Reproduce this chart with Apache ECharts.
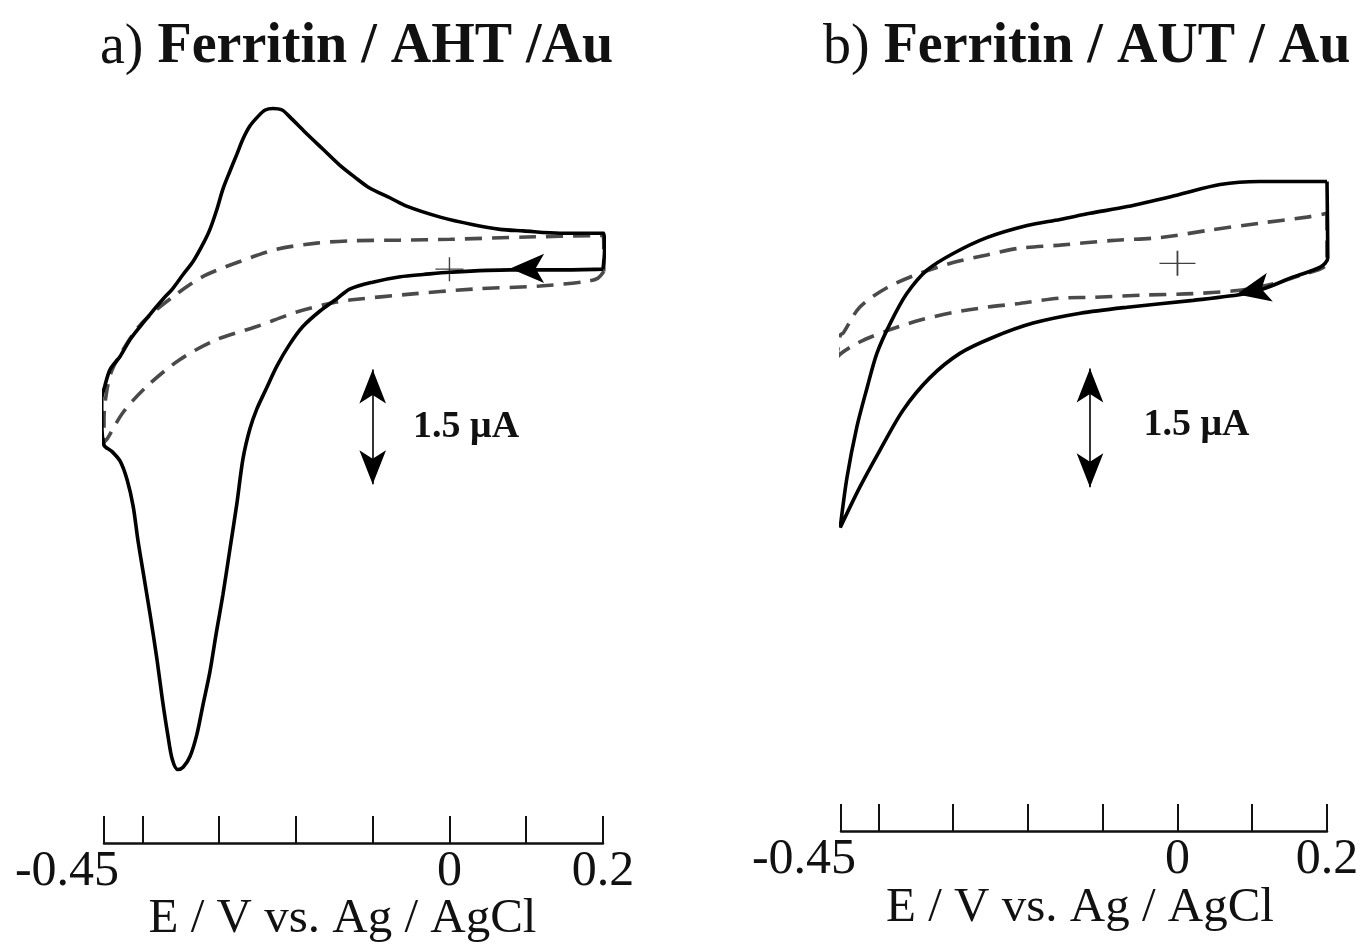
<!DOCTYPE html>
<html><head><meta charset="utf-8">
<script src="https://cdn.jsdelivr.net/npm/echarts@6/dist/echarts.min.js"></script>
<style>html,body{margin:0;padding:0;background:#fff}#c{width:1362px;height:947px}</style>
</head><body><div id="c"></div><script>
// ---------- text ----------
const panelTitlesA = ['a)', 'Ferritin / AHT /Au'];
const panelTitlesB = ['b)', 'Ferritin / AUT / Au'];
const xName = 'E / V vs. Ag / AgCl';
const scaleLabel = '1.5 μA';
// ---------- axis ticks ----------
const xTicks = [-0.45, -0.4, -0.3, -0.2, -0.1, 0, 0.1, 0.2];
const xLabelValues = [-0.45, 0, 0.2];
// ---------- data: [E (V), I (uA)] ----------
// panel a, ferritin CV (solid), scan order
const cvA = [
  [0.200, 0.00], [0.144, -0.01], [0.079, -0.01], [0.000, -0.04], [-0.034, -0.07], [-0.064, -0.10],
  [-0.100, -0.17], [-0.130, -0.26], [-0.147, -0.39], [-0.169, -0.55], [-0.191, -0.75], [-0.208, -0.98],
  [-0.225, -1.27], [-0.239, -1.57], [-0.251, -1.83], [-0.260, -2.09], [-0.269, -2.48], [-0.277, -3.07],
  [-0.286, -3.66], [-0.295, -4.25], [-0.304, -4.77], [-0.312, -5.26], [-0.321, -5.69], [-0.329, -6.08],
  [-0.338, -6.37], [-0.347, -6.51], [-0.354, -6.54], [-0.361, -6.41], [-0.367, -6.08], [-0.374, -5.62],
  [-0.381, -5.10], [-0.390, -4.51], [-0.399, -3.96], [-0.406, -3.53], [-0.412, -3.10], [-0.420, -2.75],
  [-0.429, -2.51], [-0.440, -2.38], [-0.450, -2.30], [-0.453, -1.96], [-0.453, -1.70], [-0.449, -1.53],
  [-0.442, -1.31], [-0.429, -1.14], [-0.416, -0.92], [-0.403, -0.75], [-0.390, -0.59], [-0.373, -0.39],
  [-0.361, -0.26], [-0.347, -0.07], [-0.334, 0.10], [-0.321, 0.33], [-0.312, 0.52], [-0.303, 0.78],
  [-0.295, 1.05], [-0.286, 1.28], [-0.277, 1.50], [-0.269, 1.70], [-0.260, 1.87], [-0.249, 2.00],
  [-0.240, 2.08], [-0.230, 2.10], [-0.218, 2.08], [-0.208, 1.99], [-0.188, 1.79], [-0.165, 1.57],
  [-0.143, 1.36], [-0.123, 1.20], [-0.104, 1.06], [-0.077, 0.93], [-0.055, 0.82], [-0.012, 0.68],
  [0.031, 0.58], [0.066, 0.52], [0.096, 0.50], [0.144, 0.47], [0.196, 0.47], [0.201, 0.47],
  [0.202, 0.24], [0.200, 0.00]
];
// panel a, background (dashed)
const bgA = [
  [0.201, -0.03], [0.193, -0.12], [0.179, -0.16], [0.118, -0.22], [0.031, -0.26], [-0.055, -0.33],
  [-0.117, -0.39], [-0.147, -0.43], [-0.199, -0.56], [-0.251, -0.75], [-0.303, -0.92], [-0.351, -1.18],
  [-0.394, -1.53], [-0.425, -1.87], [-0.446, -2.22], [-0.450, -2.26], [-0.450, -1.96], [-0.447, -1.63],
  [-0.440, -1.33], [-0.425, -1.05], [-0.407, -0.78], [-0.390, -0.60], [-0.364, -0.39], [-0.338, -0.20],
  [-0.316, -0.07], [-0.273, 0.10], [-0.225, 0.26], [-0.173, 0.34], [-0.130, 0.37], [-0.064, 0.38],
  [0.001, 0.39], [0.101, 0.42], [0.200, 0.44], [0.201, 0.26], [0.201, -0.03]
];
// panel b, ferritin CV (solid)
const cvB = [
  [0.200, 1.08], [0.201, 0.07], [0.191, -0.05], [0.155, -0.18], [0.120, -0.32], [0.093, -0.40],
  [0.021, -0.49], [-0.067, -0.58], [-0.130, -0.66], [-0.193, -0.79], [-0.247, -0.98], [-0.291, -1.19],
  [-0.331, -1.51], [-0.367, -1.94], [-0.398, -2.47], [-0.425, -2.96], [-0.451, -3.49], [-0.442, -2.83],
  [-0.429, -2.17], [-0.415, -1.64], [-0.402, -1.19], [-0.384, -0.79], [-0.362, -0.40], [-0.335, -0.09],
  [-0.300, 0.13], [-0.255, 0.34], [-0.201, 0.50], [-0.157, 0.58], [-0.117, 0.66], [-0.067, 0.75],
  [-0.001, 0.90], [0.057, 1.04], [0.110, 1.08], [0.200, 1.08]
];
// panel b, background (dashed)
const bgB = [
  [0.200, 0.66], [0.200, 0.01], [0.164, -0.16], [0.120, -0.29], [0.080, -0.36], [0.021, -0.40],
  [-0.046, -0.42], [-0.113, -0.45], [-0.157, -0.46], [-0.211, -0.53], [-0.255, -0.58], [-0.300, -0.65],
  [-0.344, -0.75], [-0.388, -0.89], [-0.425, -1.04], [-0.455, -1.24], [-0.457, -1.36], [-0.451, -0.95],
  [-0.447, -0.92], [-0.425, -0.58], [-0.388, -0.32], [-0.344, -0.13], [-0.300, 0.01], [-0.255, 0.11],
  [-0.211, 0.20], [-0.157, 0.24], [-0.090, 0.30], [-0.023, 0.34], [0.044, 0.44], [0.110, 0.53],
  [0.173, 0.61], [0.200, 0.66]
];
// annotations (data coordinates)
const scaleBarA = [[-0.100, -1.31], [-0.100, -2.81]];
const scaleBarB = [[-0.117, -1.39], [-0.117, -2.96]];
const scaleTextA = [-0.048, -2.07];
const scaleTextB = [-0.046, -2.14];
const originA = [[0, 0]];
const originB = [[0, 0]];
const scanArrowA = [0.079, 0.01];
const scanArrowB = [0.079, -0.41];

const SERIF = 'Liberation Serif';
const chart = echarts.init(document.getElementById('c'), null, {renderer: 'canvas'});

function xAxisCfg(gi, namePad, gap) {
  return {
    type: 'value', gridIndex: gi, min: -0.45, max: 0.2,
    name: xName, nameLocation: 'middle', nameGap: gap, nameMoveOverlap: false,
    nameTextStyle: {fontFamily: SERIF, fontSize: 49, color: '#111', padding: [0, namePad, 0, 0]},
    axisLine: {show: true, onZero: false, lineStyle: {color: '#111', width: 2.5}},
    axisTick: {show: true, inside: true, length: 27, customValues: xTicks, lineStyle: {color: '#111', width: 2}},
    axisLabel: {
      show: true, customValues: xLabelValues, margin: 4,
      fontFamily: SERIF, fontSize: 50, color: '#111',
      formatter: v => Math.abs(v + 0.45) < 1e-9 ? '{m|-0.45}' : String(v),
      rich: {m: {fontFamily: SERIF, fontSize: 50, color: '#111', padding: [0, 74, 0, 0]}}
    },
    splitLine: {show: false}
  };
}
function yAxisCfg(gi) {
  return {type: 'value', gridIndex: gi, min: -7.5, max: 2.25, show: false, splitLine: {show: false}};
}
function titleCfg(parts, left) {
  return {
    text: '{n|' + parts[0] + '} {b|' + parts[1] + '}', left: left, top: 15,
    textStyle: {fontFamily: SERIF, fontSize: 56, fontWeight: 'normal', color: '#111',
      rich: {n: {fontFamily: SERIF, fontSize: 56, fontWeight: 'normal', color: '#111'},
             b: {fontFamily: SERIF, fontSize: 56, fontWeight: 'bold', color: '#111'}}}
  };
}
function solid(gi, data, arrowPos, arrowRot, bar, textPos) {
  return {
    type: 'line', xAxisIndex: gi, yAxisIndex: gi, data: data, symbol: 'none', smooth: 0.3, clip: false,
    silent: true, lineStyle: {color: '#000', width: 3.6},
    markPoint: {
      silent: true,
      data: [
        {coord: arrowPos, symbol: 'arrow', symbolSize: [22, 34], symbolRotate: arrowRot,
         itemStyle: {color: '#000'}, label: {show: false}},
        {coord: textPos, symbol: 'circle', symbolSize: 1, itemStyle: {color: 'rgba(0,0,0,0)'},
         label: {show: true, position: 'right', distance: 0, formatter: scaleLabel,
                 fontFamily: SERIF, fontWeight: 'bold', fontSize: 38, color: '#111'}}
      ]
    },
    markLine: {
      silent: true, symbol: ['arrow', 'arrow'], symbolSize: [20, 34],
      lineStyle: {color: '#000', width: 1.6, type: 'solid'}, label: {show: false},
      data: [[{coord: bar[0]}, {coord: bar[1]}]]
    }
  };
}
function dashed(gi, data) {
  return {
    type: 'line', xAxisIndex: gi, yAxisIndex: gi, data: data, symbol: 'none', smooth: 0.3, clip: false,
    silent: true, z: 1, lineStyle: {color: '#4a4a4a', width: 3.6, type: [17, 10]}
  };
}
function origin(gi, data, size) {
  return {
    type: 'scatter', xAxisIndex: gi, yAxisIndex: gi, data: data, silent: true,
    symbol: 'path://M0,9.5H20V10.5H0Z M9.5,0H10.5V20H9.5Z', symbolSize: size,
    symbolKeepAspect: false, itemStyle: {color: '#111'}
  };
}

chart.setOption({
  animation: false,
  backgroundColor: '#fff',
  title: [titleCfg(panelTitlesA, 95), titleCfg(panelTitlesB, 818)],
  grid: [
    {left: 104, right: 759, top: 97, bottom: 104, containLabel: false, outerBoundsMode: 'none'},
    {left: 841, right: 35, top: 93, bottom: 116, containLabel: false, outerBoundsMode: 'none'}
  ],
  xAxis: [xAxisCfg(0, 22, 52), xAxisCfg(1, 8, 53)],
  yAxis: [yAxisCfg(0), yAxisCfg(1)],
  series: [
    dashed(0, bgA),
    solid(0, cvA, scanArrowA, 90, scaleBarA, scaleTextA),
    origin(0, originA, [28, 24]),
    dashed(1, bgB),
    solid(1, cvB, scanArrowB, 102, scaleBarB, scaleTextB),
    origin(1, originB, [36, 25])
  ]
});
</script></body></html>
